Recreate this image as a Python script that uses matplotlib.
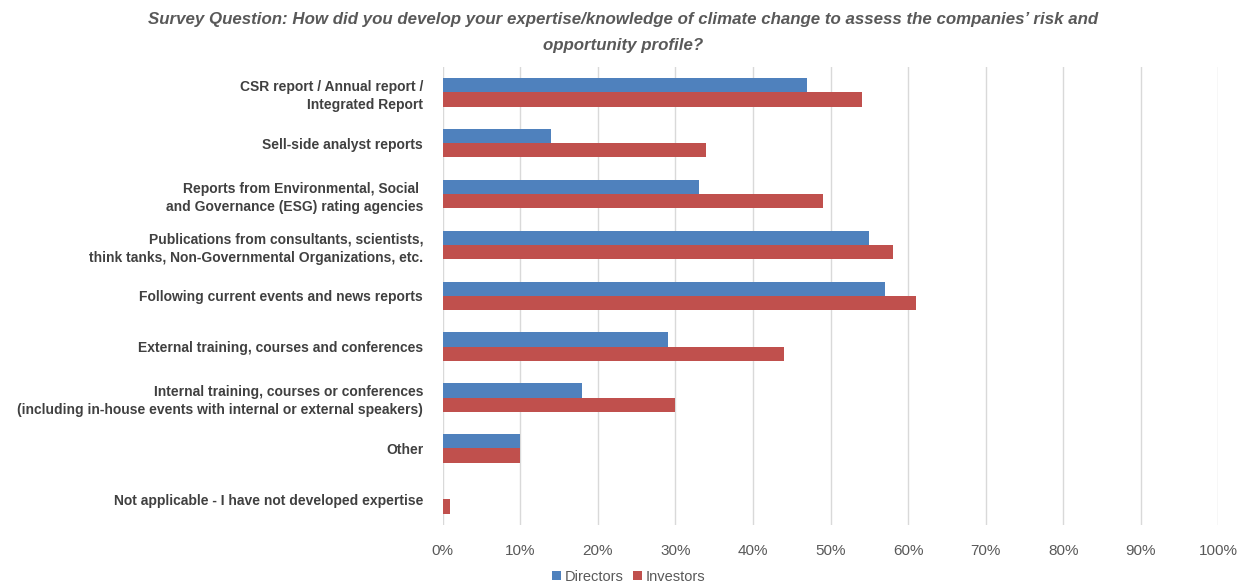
import numpy as np
import matplotlib.pyplot as plt
from matplotlib.ticker import PercentFormatter

categories = [
    "CSR report / Annual report /\nIntegrated Report",
    "Sell-side analyst reports",
    "Reports from Environmental, Social \nand Governance (ESG) rating agencies",
    "Publications from consultants, scientists,\nthink tanks, Non-Governmental Organizations, etc.",
    "Following current events and news reports",
    "External training, courses and conferences",
    "Internal training, courses or conferences\n(including in-house events with internal or external speakers)",
    "Other",
    "Not applicable - I have not developed expertise",
]
directors = [47, 14, 33, 55, 57, 29, 18, 10, 0]
investors = [54, 34, 49, 58, 61, 44, 30, 10, 1]

plt.rcParams['font.family'] = ['Liberation Sans', 'DejaVu Sans']

fig = plt.figure(figsize=(12.47, 5.87), dpi=100)
ax = fig.add_axes([0.355, 0.106, 0.622, 0.78])

y = np.arange(len(categories))
h = 0.28
ax.barh(y - h / 2, directors, height=h, color='#4f81bd', label='Directors')
ax.barh(y + h / 2, investors, height=h, color='#c0504d', label='Investors')

ax.set_ylim(len(categories) - 0.5, -0.5)
ax.set_xlim(0, 100)
ax.set_xticks(np.arange(0, 101, 10))
ax.xaxis.set_major_formatter(PercentFormatter(decimals=0))
ax.set_yticks(y)
ax.set_yticklabels(categories, fontsize=10, fontweight='bold', color='#404040',
                   linespacing=1.4)
ax.tick_params(axis='y', length=0, pad=14)
ax.tick_params(axis='x', length=0, pad=14, labelsize=11, labelcolor='#595959')
ax.grid(axis='x', color='#d9d9d9', linewidth=1)
ax.set_axisbelow(True)
for s in ax.spines.values():
    s.set_visible(False)

fig.text(0.5, 0.98, "Survey Question: How did you develop your expertise/knowledge of climate change to assess the companies\u2019 risk and\nopportunity profile?",
         ha='center', va='top', fontsize=12.2, fontweight='bold', style='italic',
         color='#595959', linespacing=1.9)

ax.legend(loc='center', bbox_to_anchor=(0.24, -0.113), ncol=2, frameon=False,
          fontsize=10.5, handlelength=0.6, handleheight=0.6, columnspacing=0.6,
          handletextpad=0.3, labelcolor='#595959', borderaxespad=0)

plt.savefig("out.png")
